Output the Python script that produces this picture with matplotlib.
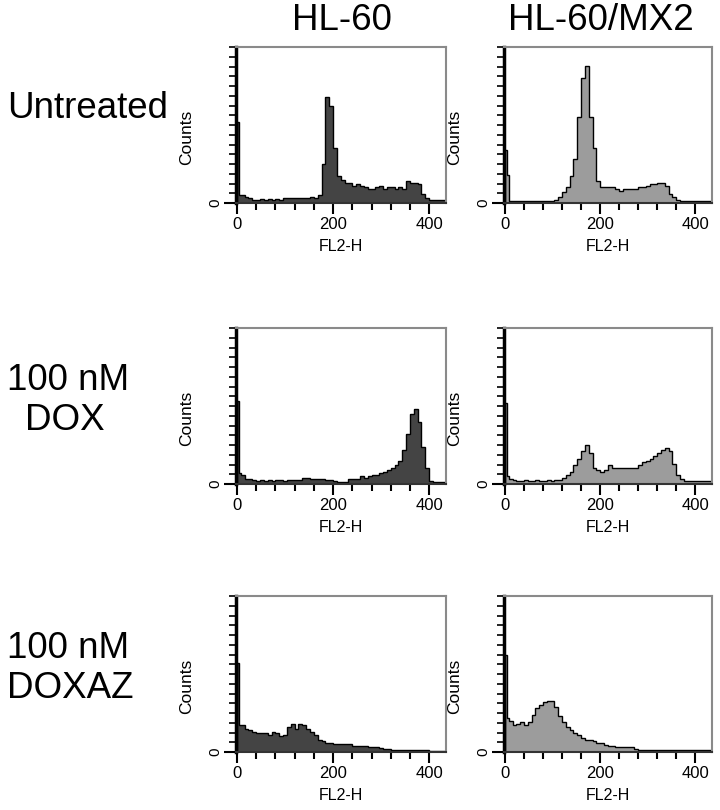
import numpy as np
import matplotlib.pyplot as plt

plt.rcParams['font.family'] = ['Liberation Sans', 'DejaVu Sans']

# histogram channels: a narrow debris spike at 0, then 8 units wide up to 440
edges = np.concatenate([[0, 4], np.arange(8, 448, 8)])

col_titles = ["HL-60", "HL-60/MX2"]
row_labels = [["Untreated"], ["100 nM", "DOX"], ["100 nM", "DOXAZ"]]

# counts in % of full scale
hl60_untreated = [52, 5, 5, 4, 3, 2, 2, 2.5, 2, 2.5, 2, 2.5, 2, 3, 3, 3, 3, 3, 3, 3, 4,
                  3.5, 5, 25, 68, 62, 35, 17, 15, 13, 13, 11, 12, 11, 10, 9, 9, 10, 11,
                  9, 10, 10, 9, 10, 9, 14, 13, 13, 12, 6, 3, 2, 2, 2, 2, 2]
mx2_untreated = [34, 18, 1, 1, 1, 1, 1, 1, 1, 1, 1, 1, 1, 1, 2, 4, 7, 10, 17, 28, 55,
                 80, 88, 55, 35, 14, 10, 10, 10, 10, 9, 8, 9, 9, 9, 9, 10, 10, 11,
                 12, 12, 13, 13, 11, 6, 4, 2, 1, 1, 1, 1, 1, 1, 1, 1, 1]
hl60_dox = [53, 7, 6, 3, 3, 2.5, 2, 2.5, 2, 2.5, 2, 2.5, 2.5, 2, 2.5, 2.5, 2.5, 2.5, 4, 4, 3,
            3, 3, 3, 2.5, 2.5, 2, 1.5, 1.5, 1.5, 3, 3, 3.5, 5, 4, 5, 6, 6, 7,
            8, 9, 10, 12, 15, 22, 32, 45, 48, 40, 24, 10, 2, 1.5, 1.5, 1.5, 1.5]
mx2_dox = [52, 5, 3, 2.5, 2, 2, 2.5, 2, 2, 2.5, 2, 2, 2.5, 2, 2.5, 2.5, 4, 6, 8, 12, 16,
           21, 25, 20, 10, 9, 8, 9, 12, 10, 10, 10, 10, 10, 10, 10, 12, 14, 15,
           16, 18, 20, 22, 23, 21, 13, 6, 3, 2, 2, 2, 2, 2, 2, 2, 2]
hl60_doxaz = [57, 17.5, 17, 15, 14, 13, 12, 12, 12, 11, 13, 12, 10, 11, 16, 18, 15, 18, 17, 15, 13,
              11, 8, 7, 6, 6, 5, 5, 5, 5, 5, 4, 4, 4, 4, 3, 3, 3, 2.5,
              2, 2, 1.5, 1.5, 1.5, 1.5, 1.5, 1.5, 1.5, 1.5, 1.5, 1.5, 0.5, 0.5, 0.5, 0.5, 0.5]
mx2_doxaz = [62, 22, 20, 17, 18, 19, 17, 19, 24, 28, 30, 32, 33, 33, 29, 23, 19, 16, 14, 12, 11,
             9, 8, 8, 7, 6, 6, 4.5, 4, 4, 3.5, 3, 3, 3, 3, 2, 1.5, 1.5, 1.5,
             1.5, 1.5, 1.5, 1.5, 1.5, 1.5, 1.5, 1.5, 1.5, 1.5, 1.5, 1.5, 1.5, 1.5, 1.5, 1.5, 1.5]

panels = [[hl60_untreated, mx2_untreated],
          [hl60_dox, mx2_dox],
          [hl60_doxaz, mx2_doxaz]]
fills = ["#444444", "#9c9c9c"]

W, H = 720, 810
fig = plt.figure(figsize=(W / 100, H / 100), dpi=100)

col_x = [236 / W, 504 / W]
col_w = [210 / W, 208 / W]
row_y = [1 - 203 / H, 1 - 484 / H, 1 - 752 / H]
row_h = 156 / H

for r in range(3):
    for c in range(2):
        ax = fig.add_axes([col_x[c], row_y[r], col_w[c], row_h])
        ax.stairs(panels[r][c], edges, fill=True, facecolor=fills[c],
                  edgecolor='none')
        ax.stairs(panels[r][c], edges, color='black', linewidth=1.0)
        ax.set_xlim(-2, 435)
        ax.set_ylim(0, 100)
        ax.set_xticks([0, 200, 400])
        ax.set_xticks(np.arange(0, 440, 40), minor=True)
        ax.set_yticks([0])
        ax.set_yticks(np.arange(0, 101, 6.25), minor=True)
        ax.tick_params(axis='x', which='major', labelsize=12, length=8, width=1.5,
                       direction='out', pad=2)
        ax.tick_params(axis='x', which='minor', length=5, width=1.5, direction='out')
        ax.tick_params(axis='y', which='major', labelsize=11, length=9, width=1.5,
                       direction='out', pad=1, labelrotation=90)
        ax.tick_params(axis='y', which='minor', length=5, width=1.2, direction='out')
        for lab in ax.get_yticklabels():
            lab.set_va('center')
        ax.set_xlabel("FL2-H", fontsize=11.5, labelpad=5)
        ax.set_ylabel("Counts", fontsize=12.5)
        ax.yaxis.set_label_coords(-0.2, 0.42)
        ax.spines['left'].set_linewidth(2.5)
        ax.spines['left'].set_color('black')
        for s in ['top', 'right']:
            ax.spines[s].set_color('#8a8a8a')
            ax.spines[s].set_linewidth(1.5)
        ax.spines['bottom'].set_color('#333333')
        ax.spines['bottom'].set_linewidth(1.5)

fig.text(342 / W, 1 - 20 / H, col_titles[0], fontsize=26.5, ha='center', va='center')
fig.text(601 / W, 1 - 20 / H, col_titles[1], fontsize=26.5, ha='center', va='center')

fig.text(7 / W, 1 - 108 / H, row_labels[0][0], fontsize=26.5, ha='left', va='center')
fig.text(7 / W, 1 - 381 / H, row_labels[1][0], fontsize=26.5, ha='left', va='center')
fig.text(25 / W, 1 - 420 / H, row_labels[1][1], fontsize=26.5, ha='left', va='center')
fig.text(7 / W, 1 - 648 / H, row_labels[2][0], fontsize=26.5, ha='left', va='center')
fig.text(7 / W, 1 - 688 / H, row_labels[2][1], fontsize=26.5, ha='left', va='center')

fig.savefig("out.png", dpi=100)
